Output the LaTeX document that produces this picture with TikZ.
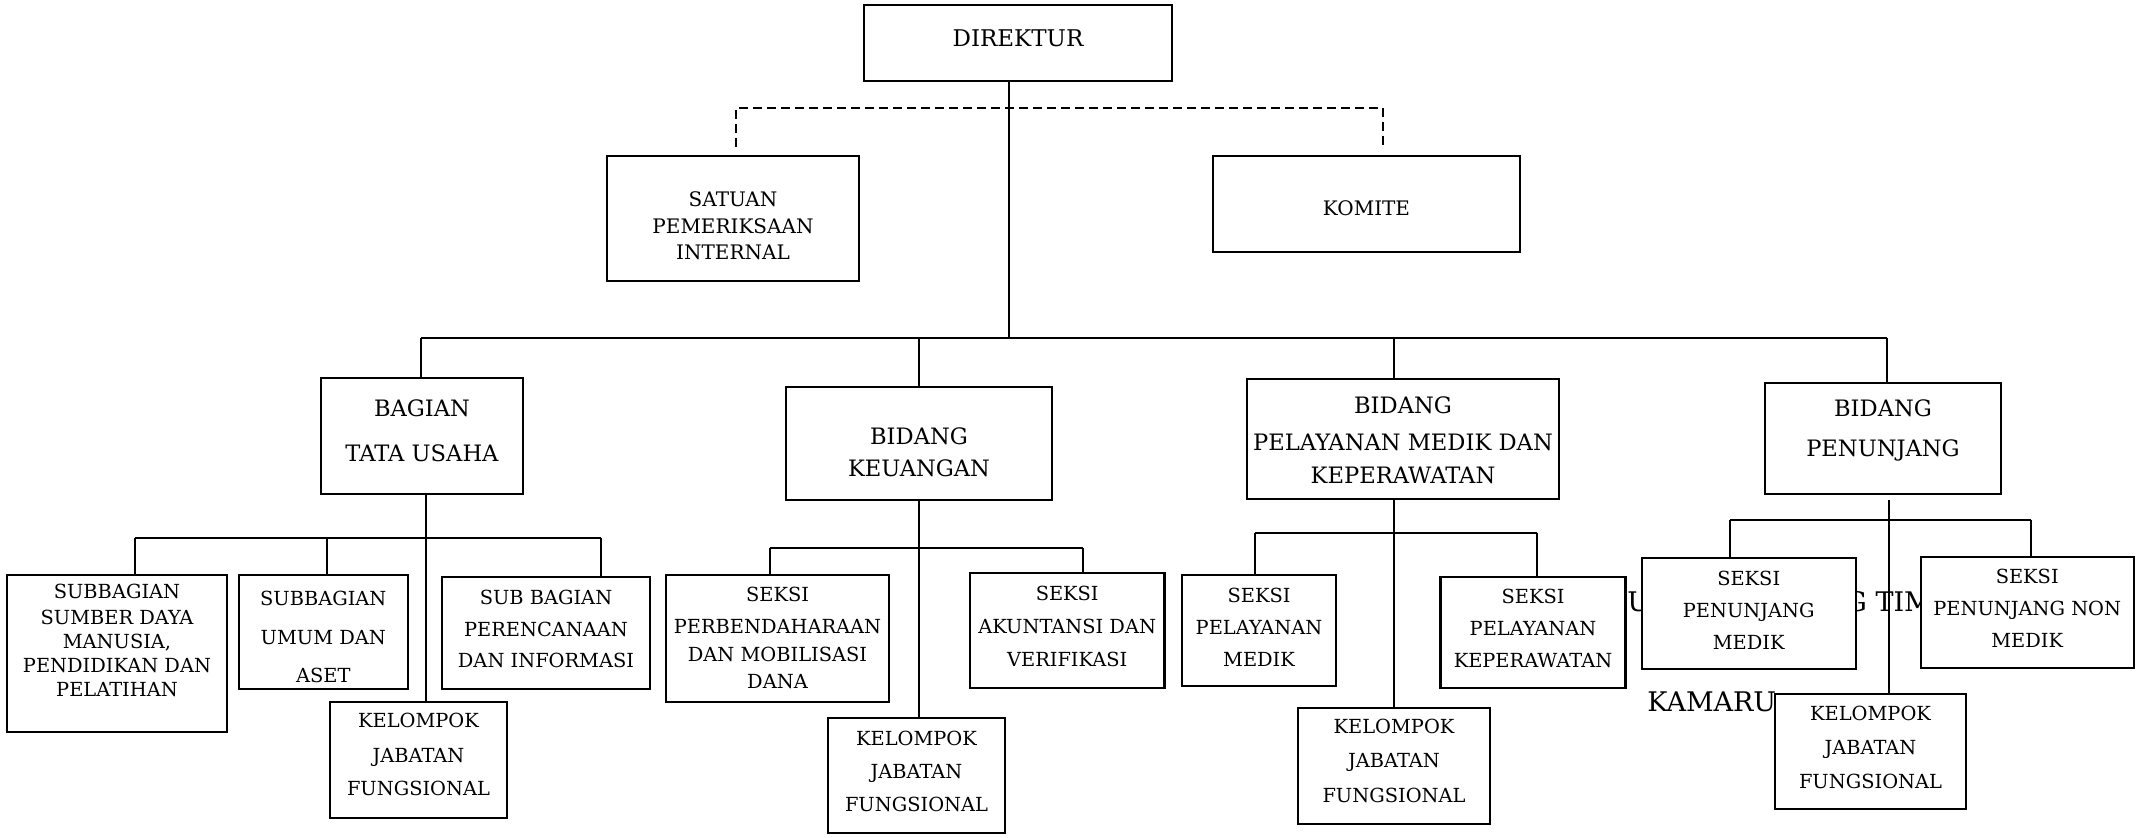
\documentclass[tikz,border=0pt]{standalone}
\usepackage{fontspec}
\setmainfont{DejaVu Serif}
\usepackage{tikz}
\usetikzlibrary{calc}
\pgfdeclarelayer{background}
\pgfsetlayers{background,main}
\newcommand{\unitfont}[2]{\fontsize{#1}{#2}\selectfont}
\tikzstyle{orgunit} = [draw, fill = white, line width = 1.1pt, align = center, inner xsep = 1pt, inner ysep = 0pt]
\tikzstyle{orgline} = [black, line width = 1pt]
\tikzstyle{orgbar} = [black, line width = 1.3pt]
\tikzstyle{orglink} = [black, line width = 1pt, dash pattern = on 4.5pt off 2.5pt]
\tikzstyle{orgmark} = [inner sep = 0pt, anchor = base west, font = \unitfont{13.5}{16}]

\begin{document}
\begin{tikzpicture}[x = 0.5pt, y = -0.5pt]
\useasboundingbox (0, 0) rectangle (2147, 838);
% top
\node[orgunit, minimum width = 154pt, text height = 21pt, text depth = 17pt, font = \unitfont{11.5}{14}] (dir) at (1018, 43) {DIREKTUR};
\node[orgunit, minimum width = 126pt, text height = 52pt, text depth = 10.5pt, font = \unitfont{10}{13.35}] (sat) at (733, 218.5) {SATUAN\\PEMERIKSAAN\\INTERNAL};
\node[orgunit, minimum width = 153.5pt, text height = 30pt, text depth = 18pt, font = \unitfont{10}{13.5}] (kom) at (1366.5, 204) {KOMITE};
% second level
\node[orgunit, minimum width = 101pt, text height = 41.85pt, text depth = 16.15pt, font = \unitfont{11.3}{22.6}] (bag) at (422, 436) {BAGIAN\\TATA USAHA};
\node[orgunit, minimum width = 132.75pt, text height = 44.85pt, text depth = 11.65pt, font = \unitfont{11.3}{15.85}] (keu) at (919, 443.5) {BIDANG\\KEUANGAN};
\node[orgunit, minimum width = 156pt, text height = 52.15pt, text depth = 7.85pt, font = \unitfont{11.3}{16.3}] (pel) at (1403, 439) {BIDANG\\[2.4pt]PELAYANAN MEDIK DAN\\KEPERAWATAN};
\node[orgunit, minimum width = 118pt, text height = 36.85pt, text depth = 18.65pt, font = \unitfont{11.3}{20}] (pen) at (1883, 438.5) {BIDANG\\PENUNJANG};
% third level
\node[orgunit, minimum width = 110pt, text height = 61pt, text depth = 17.5pt, font = \unitfont{9.7}{12}] (sdm) at (117, 653.5) {SUBBAGIAN\\[1.3pt]SUMBER DAYA\\MANUSIA,\\PENDIDIKAN DAN\\PELATIHAN};
\node[orgunit, minimum width = 84.3pt, text height = 54pt, text depth = 3pt, font = \unitfont{9.7}{19.25}] (umum) at (323.3, 632) {SUBBAGIAN\\UMUM DAN\\ASET};
\node[orgunit, minimum width = 104pt, text height = 45.5pt, text depth = 10.5pt, font = \unitfont{9.7}{15.85}] (ren) at (546, 633) {SUB BAGIAN\\PERENCANAAN\\DAN INFORMASI};
\node[orgunit, minimum width = 88.5pt, text height = 47pt, text depth = 11pt, font = \unitfont{9.7}{17}] (kj1) at (418.5, 760) {KELOMPOK\\JABATAN\\FUNGSIONAL};
\node[orgunit, minimum width = 111.5pt, text height = 56.65pt, text depth = 6.85pt, font = \unitfont{9.7}{13.6}] (ben) at (777.5, 638.5) {SEKSI\\[2.55pt]PERBENDAHARAAN\\DAN MOBILISASI\\DANA};
\node[orgunit, minimum width = 97.2pt, text height = 46.7pt, text depth = 10.8pt, font = \unitfont{9.7}{16.5}] (aku) at (1067.2, 630.8) {SEKSI\\AKUNTANSI DAN\\VERIFIKASI};
\node[orgunit, minimum width = 88.5pt, text height = 46.85pt, text depth = 10.65pt, font = \unitfont{9.7}{16.5}] (kj2) at (916.5, 775.5) {KELOMPOK\\JABATAN\\FUNGSIONAL};
\node[orgunit, minimum width = 77pt, text height = 45.85pt, text depth = 9.65pt, font = \unitfont{9.7}{16}] (med) at (1259, 630.5) {SEKSI\\PELAYANAN\\MEDIK};
\node[orgunit, minimum width = 92.5pt, text height = 45.5pt, text depth = 10pt, font = \unitfont{9.7}{16}] (kep) at (1533, 632.5) {SEKSI\\PELAYANAN\\KEPERAWATAN};
\node[orgunit, minimum width = 96pt, text height = 47.5pt, text depth = 10.5pt, font = \unitfont{9.7}{17.5}] (kj3) at (1394, 766) {KELOMPOK\\JABATAN\\FUNGSIONAL};
\node[orgunit, minimum width = 107pt, text height = 45.65pt, text depth = 9.85pt, font = \unitfont{9.7}{16}] (pmed) at (1748.7, 613.5) {SEKSI\\PENUNJANG\\MEDIK};
\node[orgunit, minimum width = 106.5pt, text height = 45.5pt, text depth = 10pt, font = \unitfont{9.7}{16}] (pnon) at (2027.2, 612.2) {SEKSI\\PENUNJANG NON\\MEDIK};
\node[orgunit, minimum width = 95.5pt, text height = 47.15pt, text depth = 10.35pt, font = \unitfont{9.7}{17}] (kj4) at (1870.5, 751.5) {KELOMPOK\\JABATAN\\FUNGSIONAL};
\begin{pgfonlayer}{background}
\fill[white] (0, 0) rectangle (2147, 838);
\node[orgmark] (markU) at (1627, 612) {U};
\node[orgmark] (markTim) at (1845, 612) {G TIM};
\node[orgmark] (markKam) at (1647, 712) {KAMARU};
\coordinate (trunk) at (1009, 338);
\coordinate (advL) at (736, 108);
\coordinate (advR) at (1383, 108);
\coordinate (barL) at (421, 338);
\coordinate (barR) at (1887, 338);
\coordinate (tuL) at (135, 538);
\coordinate (tuR) at (601, 538);
\coordinate (kuL) at (770, 548);
\coordinate (kuR) at (1083, 548);
\coordinate (plL) at (1255, 533);
\coordinate (plR) at (1537, 533);
\coordinate (pnL) at (1730, 520);
\coordinate (pnR) at (2031, 520);
\draw[orgline] (dir.south -| trunk) -- (trunk);
\draw[orglink] ([yshift = 4pt]sat.north -| advL) -- (advL) -- (advR) -- ([yshift = 3pt]kom.north -| advR);
\draw[orgbar] (barL) -- (barR);
\draw[orgline] (barL) -- (barL |- bag.north);
\draw[orgline] (keu.north |- barL) -- (keu.north);
\draw[orgline] ([xshift = -4.5pt]pel.north |- barL) -- ([xshift = -4.5pt]pel.north);
\draw[orgline] (barR) -- (barR |- pen.north);
\draw[orgbar] (tuL) -- (tuR);
\draw[orgline] (tuL) -- (tuL |- sdm.north);
\draw[orgline] ([xshift = 2pt]umum.north |- tuL) -- ([xshift = 2pt]umum.north);
\draw[orgline] (tuR) -- (tuR |- ren.north);
\draw[orgline] ([xshift = 2pt]bag.south) -- ([xshift = 2pt]bag.south |- kj1.north);
\draw[orgbar] (kuL) -- (kuR);
\draw[orgline] (kuL) -- (kuL |- ben.north);
\draw[orgline] (kuR) -- (kuR |- aku.north);
\draw[orgline] (keu.south) -- (keu.south |- kj2.north);
\draw[orgbar] (plL) -- (plR);
\draw[orgline] (plL) -- (plL |- med.north);
\draw[orgline] (plR) -- (plR |- kep.north);
\draw[orgline] (kj3.north |- pel.south) -- (kj3.north);
\draw[orgbar] (pnL) -- (pnR);
\draw[orgline] (pnL) -- (pnL |- pmed.north);
\draw[orgline] (pnR) -- (pnR |- pnon.north);
\draw[orgline] ([xshift = 3pt, yshift = -2.5pt]pen.south) -- ([xshift = 3pt]pen.south |- kj4.north);
\end{pgfonlayer}
\end{tikzpicture}
\end{document}
